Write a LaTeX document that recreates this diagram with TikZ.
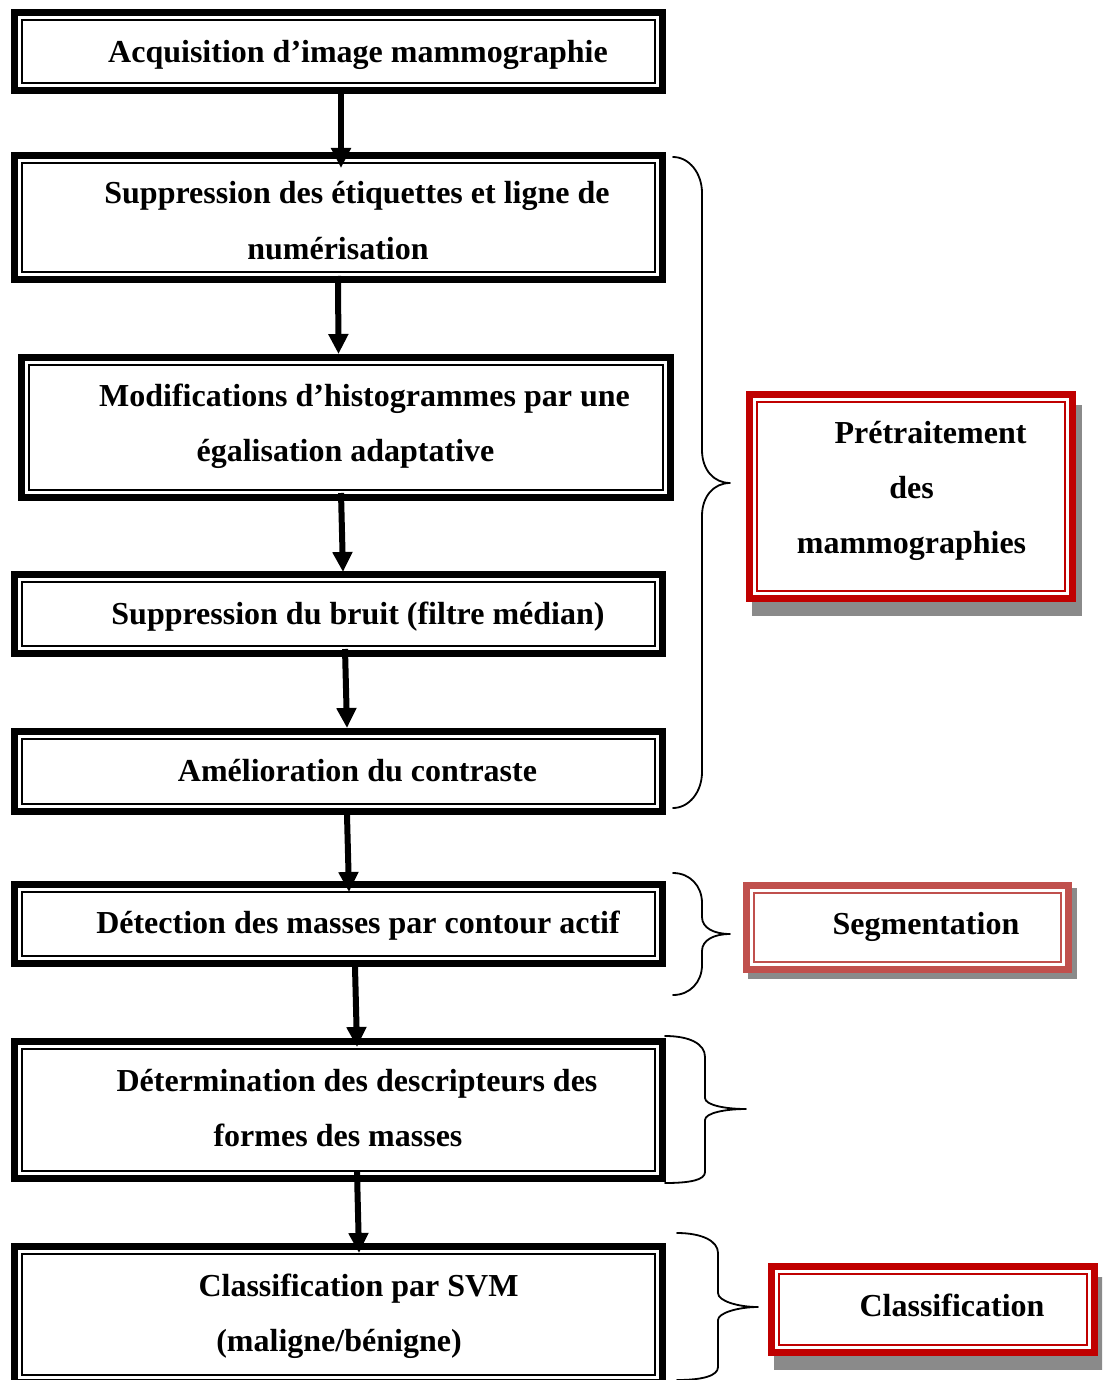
\documentclass[tikz,border=0pt]{standalone}
\usepackage{fontspec}
\setmainfont{Liberation Serif}
\usetikzlibrary{arrows.meta,calc}
\definecolor{darkred}{HTML}{C00000}
\definecolor{softred}{HTML}{C0504D}
\definecolor{shadowgray}{HTML}{8A8A8A}
\tikzset{
  fbox/.style={draw=#1, line width=7pt, fill=white, inner sep=0pt,
    path picture={\draw[line width=2.4pt, draw=#1]
      ([shift={(7.6pt,7.6pt)}]path picture bounding box.south west) rectangle
      ([shift={(-7.6pt,-7.6pt)}]path picture bounding box.north east);}},
  fbox/.default=black,
  lbl/.style={anchor=base, inner sep=0pt, font=\fontsize{32}{38}\selectfont\bfseries},
  arr/.style={line width=6pt, -{Triangle[width=19pt,length=20pt]}},
  bracestyle/.style={line width=1.8pt, line join=round, line cap=round},
  shadowfill/.style={fill=shadowgray}
}
\newcommand\fbx[6]{%
  \node[fbox=#6, minimum width={#4-#2-7}, minimum height={#5-#3-7}]
    (#1) at ({(#2+#4)/2},{(#3+#5)/2}) {};}
\begin{document}
\begin{tikzpicture}[x=1pt,y=-1pt]
\useasboundingbox (0,0) rectangle (1102,1380);
\clip (0,0) rectangle (1102,1380);
\fill[white] (0,0) rectangle (1102,1380);

% black process boxes
\fbx{b1}{11}{9}{666}{94}{black}
\fbx{b2}{11}{152}{666}{283}{black}
\fbx{b3}{18}{354}{674}{501}{black}
\fbx{b4}{11}{571}{666}{657}{black}
\fbx{b5}{11}{728}{666}{815}{black}
\fbx{b6}{11}{881}{666}{967}{black}
\fbx{b7}{11}{1038}{666}{1182}{black}
\fbx{b8}{11}{1243}{666}{1386}{black}

% texts of the process boxes
\node[lbl] (t1) at (358,63) {Acquisition d’image mammographie};
\node[lbl] (t2a) at (357,204) {Suppression des étiquettes et ligne de};
\node[lbl] (t2b) at (338,259) {numérisation};
\node[lbl] (t3a) at (364.5,406) {Modifications d’histogrammes par une};
\node[lbl] (t3b) at (345.5,461) {égalisation adaptative};
\node[lbl] (t4) at (358,624) {Suppression du bruit (filtre médian)};
\node[lbl] (t5) at (357.5,781) {Amélioration du contraste};
\node[lbl] (t6) at (358,933) {Détection des masses par contour actif};
\node[lbl] (t7a) at (357,1091) {Détermination des descripteurs des};
\node[lbl] (t7b) at (338,1146) {formes des masses};
\node[lbl] (t8a) at (358.5,1296) {Classification par SVM};
\node[lbl] (t8b) at (339,1351) {(maligne/bénigne)};

% arrows
\draw[arr] ($(b1.south)+(2.5,0)$) -- ($(b2.north)+(2.5,16)$);
\draw[arr] ($(b2.south)+(-0.5,-7)$) -- ($(b3.north)+(-7.5,0)$);
\draw[arr] ($(b3.south)+(-5,-8)$) -- ($(b4.north)+(4.5,1)$);
\draw[arr] ($(b4.south)+(6.5,-8)$) -- ($(b5.north)+(8.5,0)$);
\draw[arr] ($(b5.south)+(8.5,0)$) -- ($(b6.north)+(10.5,11)$);
\draw[arr] ($(b6.south)+(16.5,0)$) -- ($(b7.north)+(18.5,9)$);
\draw[arr] ($(b7.south)+(18.5,-10)$) -- ($(b8.north)+(20.5,10)$);

% braces
\draw[bracestyle] (673,157) .. controls (689,157) and (702,173) .. (702,193) -- (702,450)
  .. controls (702,470) and (714,483) .. (730,483)
  .. controls (714,483) and (702,496) .. (702,516) -- (702,772)
  .. controls (702,792) and (689,808) .. (673,808);
\draw[bracestyle] (673,873) .. controls (690,873) and (702,886) .. (702,903) -- (702,917)
  .. controls (702,928) and (714,934) .. (730,934)
  .. controls (714,934) and (702,940) .. (702,951) -- (702,965)
  .. controls (702,982) and (690,995) .. (673,995);
\draw[bracestyle] (665,1036) .. controls (690,1036) and (705,1044) .. (705,1057) -- (705,1098)
  .. controls (705,1105) and (725,1109) .. (746,1109)
  .. controls (725,1109) and (705,1113) .. (705,1120) -- (705,1172)
  .. controls (705,1180) and (690,1183) .. (665,1183);
\draw[bracestyle] (677,1233) .. controls (702,1233) and (718,1241) .. (718,1253) -- (718,1293)
  .. controls (718,1301) and (738,1307) .. (758,1307)
  .. controls (738,1307) and (718,1313) .. (718,1320) -- (718,1367)
  .. controls (718,1376) and (702,1380) .. (677,1380);

% shadows of the red boxes
\path[shadowfill] (752,405) rectangle (1082,616);
\path[shadowfill] (748,888) rectangle (1077,979);
\path[shadowfill] (774,1277) rectangle (1104,1370);

% red boxes
\fbx{r1}{746}{391}{1076}{602}{darkred}
\fbx{r2}{743}{882}{1072}{973}{softred}
\fbx{r3}{768}{1263}{1098}{1356}{darkred}

\node[lbl] (p1) at (930.5,443) {Prétraitement};
\node[lbl] (p2) at (911.5,498) {des};
\node[lbl] (p3) at (911.5,553) {mammographies};
\node[lbl] (s1) at (926,934) {Segmentation};
\node[lbl] (c1) at (952,1316) {Classification};
\end{tikzpicture}
\end{document}
